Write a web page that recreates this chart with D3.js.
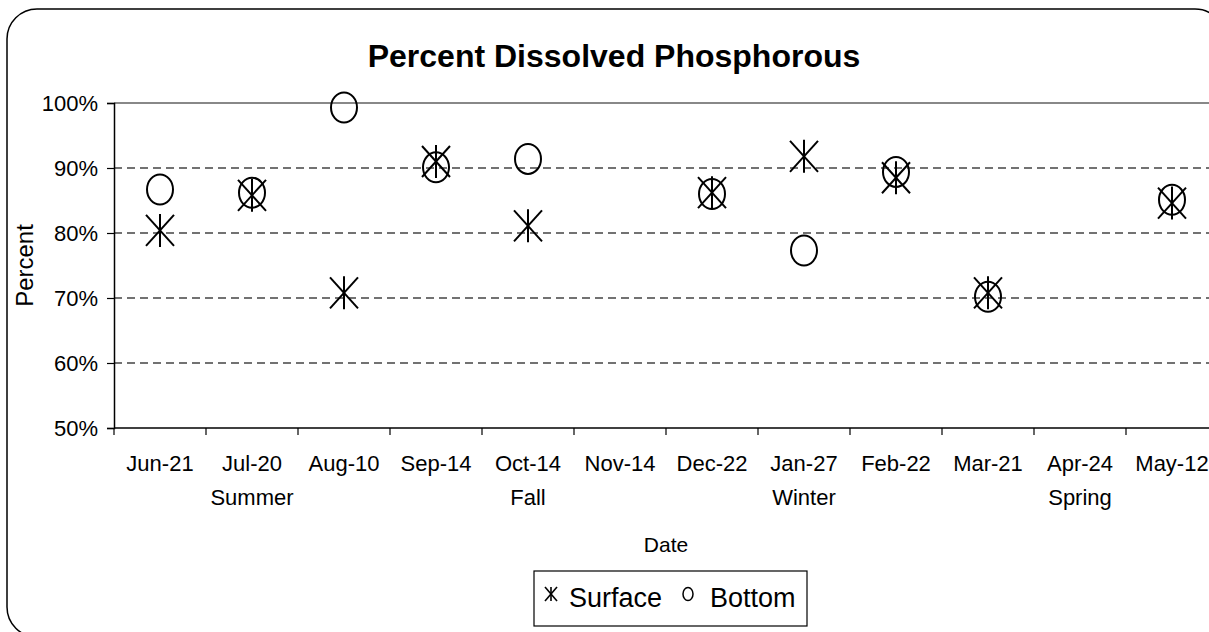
<!DOCTYPE html>
<html lang="en">
<head>
<meta charset="UTF-8">
<title>Percent Dissolved Phosphorous</title>
<script src="https://cdn.jsdelivr.net/npm/d3@7"></script>
<style>
  body { margin: 0; background: white; }
  svg { font-family: "Liberation Sans", Arial, sans-serif; }
</style>
</head>
<body>
<svg id="chart" width="1209" height="632"></svg>
<script>
// values
const dates = ["Jun-21", "Jul-20", "Aug-10", "Sep-14", "Oct-14", "Nov-14",
  "Dec-22", "Jan-27", "Feb-22", "Mar-21", "Apr-24", "May-12"];
const seasons = ["", "Summer", "", "", "Fall", "", "", "Winter", "", "", "Spring", ""];
const surface = [0.804, 0.858, 0.708, 0.910, 0.811, null, 0.862, 0.918, 0.885, 0.708, null, 0.846];
const bottom = [0.867, 0.862, 0.993, 0.901, 0.914, null, 0.860, 0.773, 0.894, 0.702, null, 0.851];
const yTicks = [0.5, 0.6, 0.7, 0.8, 0.9, 1.0];

const svg = d3.select("#chart");
const m = { left: 114, top: 103, bottom: 428, right: 1218 };

// outer chart border (rounded, partly cut off on the right)
svg.append("rect")
  .attr("x", 7).attr("y", 9)
  .attr("width", 1218).attr("height", 628)
  .attr("rx", 30)
  .attr("fill", "white")
  .attr("stroke", "black")
  .attr("stroke-width", 1.5)

const x = d3.scaleBand().domain(dates).range([m.left, m.right])
const y = d3.scaleLinear().domain([0.5, 1]).range([m.bottom, m.top])

// gridlines
svg.append("g")
  .selectAll("line")
  .data(yTicks.filter(d => d > 0.5 && d < 1))
  .join("line")
  .attr("x1", m.left).attr("x2", m.right)
  .attr("y1", d => y(d)).attr("y2", d => y(d))
  .attr("stroke", "#444")
  .attr("stroke-width", 1.3)
  .attr("stroke-dasharray", "8,5")

// plot area top border
svg.append("line")
  .attr("x1", m.left).attr("x2", m.right)
  .attr("y1", y(1)).attr("y2", y(1))
  .attr("stroke", "#888")
  .attr("stroke-width", 2)

// y axis
const yAxis = svg.append("g")
  .attr("transform", `translate(${m.left},0)`)
  .call(d3.axisLeft(y).tickValues(yTicks).tickFormat(d3.format(".0%")).tickSize(7).tickPadding(9))
yAxis.select(".domain").attr("stroke", "black").attr("stroke-width", 1.5)
yAxis.selectAll(".tick line").attr("stroke", "black").attr("stroke-width", 1.2)
yAxis.selectAll("text")
  .attr("font-size", 22)
  .attr("fill", "black")
  .style("font-family", "Liberation Sans, Arial, sans-serif")

// x axis: band boundary ticks
const xAxis = svg.append("g")
xAxis.append("line")
  .attr("x1", m.left).attr("x2", m.right)
  .attr("y1", m.bottom).attr("y2", m.bottom)
  .attr("stroke", "black").attr("stroke-width", 1.5)
xAxis.selectAll(".bt")
  .data(dates)
  .join("line")
  .attr("class", "bt")
  .attr("x1", d => x(d)).attr("x2", d => x(d))
  .attr("y1", m.bottom).attr("y2", m.bottom + 7)
  .attr("stroke", "black").attr("stroke-width", 1.2)

xAxis.selectAll(".dl")
  .data(dates)
  .join("text")
  .attr("class", "dl")
  .attr("x", d => x(d) + x.bandwidth() / 2)
  .attr("y", 471)
  .attr("text-anchor", "middle")
  .attr("font-size", 22)
  .text(d => d)

xAxis.selectAll(".sl")
  .data(seasons.map((s, i) => ({ s, d: dates[i] })).filter(o => o.s))
  .join("text")
  .attr("class", "sl")
  .attr("x", o => x(o.d) + x.bandwidth() / 2)
  .attr("y", 505)
  .attr("text-anchor", "middle")
  .attr("font-size", 22)
  .text(o => o.s)

// axis titles
svg.append("text")
  .attr("x", (m.left + m.right) / 2)
  .attr("y", 552)
  .attr("text-anchor", "middle")
  .attr("font-size", 21)
  .text("Date")

svg.append("text")
  .attr("transform", `translate(33,${(m.top + m.bottom) / 2}) rotate(-90)`)
  .attr("text-anchor", "middle")
  .attr("font-size", 24)
  .text("Percent")

// title
svg.append("text")
  .attr("x", 614)
  .attr("y", 67)
  .attr("text-anchor", "middle")
  .attr("font-size", 32)
  .attr("font-weight", "bold")
  .text("Percent Dissolved Phosphorous")

// markers
function asterisk(g, w, h, hv) {
  g.append("line").attr("x1", 0).attr("x2", 0).attr("y1", -hv).attr("y2", hv)
  g.append("line").attr("x1", -w).attr("x2", w).attr("y1", -h).attr("y2", h)
  g.append("line").attr("x1", -w).attr("x2", w).attr("y1", h).attr("y2", -h)
}

const cx = i => x(dates[i]) + x.bandwidth() / 2

svg.append("g")
  .selectAll("ellipse")
  .data(bottom.map((v, i) => ({ v, i })).filter(o => o.v != null))
  .join("ellipse")
  .attr("cx", o => cx(o.i))
  .attr("cy", o => y(o.v))
  .attr("rx", 13)
  .attr("ry", 15)
  .attr("fill", "none")
  .attr("stroke", "black")
  .attr("stroke-width", 2)

svg.append("g")
  .selectAll("g")
  .data(surface.map((v, i) => ({ v, i })).filter(o => o.v != null))
  .join("g")
  .attr("transform", o => `translate(${cx(o.i)},${y(o.v)})`)
  .attr("stroke", "black")
  .attr("stroke-width", 2)
  .each(function () { asterisk(d3.select(this), 14, 15.5, 16.5) })

// legend
const lg = svg.append("g")
lg.append("rect")
  .attr("x", 534).attr("y", 571)
  .attr("width", 273).attr("height", 55)
  .attr("fill", "white")
  .attr("stroke", "black")
  .attr("stroke-width", 1.2)
const ls = lg.append("g")
  .attr("transform", "translate(551,594)")
  .attr("stroke", "black").attr("stroke-width", 1.6)
asterisk(ls, 6, 7, 7)
lg.append("text").attr("x", 569).attr("y", 607).attr("font-size", 27).text("Surface")
lg.append("ellipse")
  .attr("cx", 688).attr("cy", 594)
  .attr("rx", 5).attr("ry", 6.5)
  .attr("fill", "none").attr("stroke", "black").attr("stroke-width", 1.5)
lg.append("text").attr("x", 710).attr("y", 607).attr("font-size", 27).text("Bottom")
</script>
</body>
</html>
